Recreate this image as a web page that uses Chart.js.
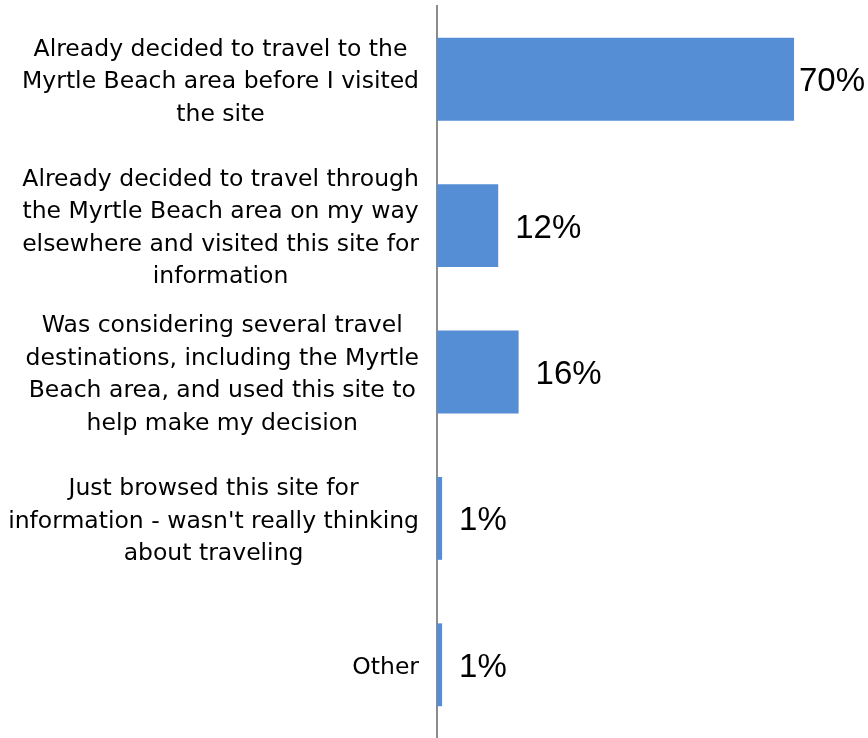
<!DOCTYPE html>
<html>
<head>
<meta charset="utf-8">
<script src="https://cdn.jsdelivr.net/npm/chart.js@4/dist/chart.umd.min.js"></script>
<style>
  html, body { margin: 0; padding: 0; background: #fff; }
  #wrap { width: 868px; height: 738px; }
</style>
</head>
<body>
<div id="wrap"><canvas id="answerChart" width="868" height="738"></canvas></div>
<script>
// survey answers, each one split into the lines it is printed on
const answers = [
  ["Already decided to travel to the", "Myrtle Beach area before I visited", "the site"],
  ["Already decided to travel through", "the Myrtle Beach area on my way", "elsewhere and visited this site for", "information"],
  ["Was considering several travel", "destinations, including the Myrtle", "Beach area, and used this site to", "help make my decision"],
  ["Just browsed this site for", "information - wasn't really thinking", "about traveling"],
  ["Other"]
];
const shares = [70, 12, 16, 1, 1];

const labelFont = "23.5px 'DejaVu Sans', Verdana, sans-serif";
const valueFont = "33px 'Liberation Sans', Arial, sans-serif";

// category text: each block centred on its own widest line, blocks right-aligned
const answerLabels = {
  id: "answerLabels",
  afterDraw(chart) {
    const ctx = chart.ctx;
    const yScale = chart.scales.y;
    const meta = chart.getDatasetMeta(0);
    const lineH = 32.5;
    const rightEdge = yScale.right - 18;

    ctx.save();
    ctx.fillStyle = "#000";
    ctx.textBaseline = "middle";
    ctx.textAlign = "center";
    ctx.font = labelFont;
    answers.forEach((lines, i) => {
      const widest = Math.max(...lines.map(l => ctx.measureText(l).width));
      const cx = rightEdge - widest / 2;
      const cy = yScale.getPixelForValue(i) + 3;
      const top = cy - (lines.length - 1) * lineH / 2;
      lines.forEach((l, j) => ctx.fillText(l, cx, top + j * lineH));
    });

    // value labels at the end of each bar
    ctx.font = valueFont;
    ctx.textAlign = "left";
    meta.data.forEach((bar, i) => {
      const txt = shares[i] + "%";
      const w = ctx.measureText(txt).width;
      let x = bar.x + 17;
      if (x + w > chart.width - 3) x = chart.width - 3 - w;
      ctx.fillText(txt, x, bar.y + 3);
    });
    ctx.restore();
  }
};

function drawChart() {
  const ctx = document.getElementById("answerChart").getContext("2d");
  new Chart(ctx, {
    type: "bar",
    data: {
      labels: answers.map(a => a.join(" ")),
      datasets: [{
        data: shares,
        backgroundColor: "#558ed5",
        borderWidth: 0,
        barPercentage: 0.566,
        categoryPercentage: 1
      }]
    },
    options: {
      indexAxis: "y",
      responsive: false,
      animation: false,
      layout: { padding: { top: 6, right: 0, bottom: 0, left: 0 } },
      plugins: {
        legend: { display: false },
        tooltip: { enabled: false }
      },
      scales: {
        x: {
          display: false,
          min: 0,
          max: 84.5
        },
        y: {
          grid: { display: false },
          border: { display: true, color: "#8c8c8c", width: 2 },
          ticks: { display: false },
          afterFit(scale) { scale.width = 437; }
        }
      }
    },
    plugins: [answerLabels]
  });
}

// make sure both faces are ready before the canvas text is drawn
Promise.all([document.fonts.load(labelFont), document.fonts.load(valueFont)])
  .then(drawChart, drawChart);
</script>
</body>
</html>
